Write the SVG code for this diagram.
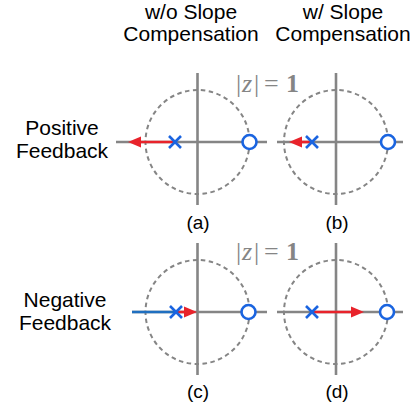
<svg xmlns="http://www.w3.org/2000/svg" width="415" height="411" viewBox="0 0 415 411">
<style>
.lbl{font-family:"Liberation Sans",Arial,sans-serif;font-size:21px;fill:#000;text-anchor:middle}
.cap{font-family:"Liberation Sans",Arial,sans-serif;font-size:19px;fill:#000;text-anchor:middle}
.math{font-family:"Liberation Serif","Times New Roman",serif;font-size:26px;fill:#858585}
.zi{font-style:italic;font-size:26px}
.axis{stroke:#858585;stroke-width:2.6;fill:none}
.unit{stroke:#858585;stroke-width:2;stroke-dasharray:4.5 3.5;fill:none}
.pole{stroke:#1a64e0;stroke-width:2.6;fill:none}
.zero{stroke:#1a64e0;stroke-width:2.6;fill:#fff}
.locus{stroke:#e8232b;stroke-width:2.6;fill:none;marker-end:url(#ah)}
.blue{stroke:#1f6fc0;stroke-width:2.6;fill:none}
</style>
<defs>
<marker id="ah" markerUnits="userSpaceOnUse" markerWidth="14" markerHeight="12" viewBox="0 0 14 12" refX="7" refY="6" orient="auto">
<path d="M0,0.5 L13,6 L0,11.5 z" fill="#e8232b"/>
</marker>
</defs>
<text class="lbl" x="191" y="19">w/o Slope</text>
<text class="lbl" x="191" y="41">Compensation</text>
<text class="lbl" x="343" y="19">w/ Slope</text>
<text class="lbl" x="343" y="41">Compensation</text>
<text class="lbl" x="62" y="135">Positive</text>
<text class="lbl" x="62" y="158">Feedback</text>
<text class="lbl" x="65" y="307">Negative</text>
<text class="lbl" x="65" y="330">Feedback</text>
<g id="zlabel1" class="math"><text x="236" y="92">|</text><text class="zi" x="242" y="92">z</text><text x="254" y="92">|</text><text x="264" y="92">=</text><text x="286" y="92" font-weight="bold">1</text></g>
<g id="zlabel2" class="math"><text x="236" y="260">|</text><text class="zi" x="242" y="260">z</text><text x="254" y="260">|</text><text x="264" y="260">=</text><text x="286" y="260" font-weight="bold">1</text></g>
<g id="panel-a">
<circle class="unit" cx="197.5" cy="142" r="52"/>
<line class="axis" x1="197.5" y1="73" x2="197.5" y2="205"/>
<line class="axis" x1="116" y1="142" x2="267" y2="142"/>
<text class="cap" x="198" y="229">(a)</text>
</g>
<g id="panel-b">
<circle class="unit" cx="336" cy="142" r="52"/>
<line class="axis" x1="336" y1="73" x2="336" y2="205"/>
<line class="axis" x1="277" y1="142" x2="403" y2="142"/>
<text class="cap" x="337" y="229">(b)</text>
</g>
<g id="panel-c">
<circle class="unit" cx="197.5" cy="312" r="52"/>
<line class="axis" x1="197.5" y1="243" x2="197.5" y2="375"/>
<line class="axis" x1="132" y1="312" x2="267" y2="312"/>
<text class="cap" x="198" y="398">(c)</text>
</g>
<g id="panel-d">
<circle class="unit" cx="336" cy="312" r="52"/>
<line class="axis" x1="336" y1="243" x2="336" y2="375"/>
<line class="axis" x1="277" y1="312" x2="403" y2="312"/>
<text class="cap" x="337" y="398">(d)</text>
</g>
<g id="connectors">
<line class="locus" x1="175" y1="142" x2="134" y2="142"/>
<line class="locus" x1="312" y1="142" x2="295" y2="142"/>
<line class="blue" x1="132" y1="312" x2="176" y2="312"/>
<line class="locus" x1="176" y1="312" x2="191" y2="312"/>
<line class="locus" x1="312" y1="312" x2="358" y2="312"/>
</g>
<g id="poles-zeros">
<path class="pole" d="M169,136 L181,148 M181,136 L169,148"/>
<circle class="zero" cx="249.5" cy="142" r="7"/>
<path class="pole" d="M306,136 L318,148 M318,136 L306,148"/>
<circle class="zero" cx="388" cy="142" r="7"/>
<path class="pole" d="M170,306 L182,318 M182,306 L170,318"/>
<circle class="zero" cx="248.5" cy="312" r="7"/>
<path class="pole" d="M306,306 L318,318 M318,306 L306,318"/>
<circle class="zero" cx="387" cy="312" r="7"/>
</g>
</svg>
